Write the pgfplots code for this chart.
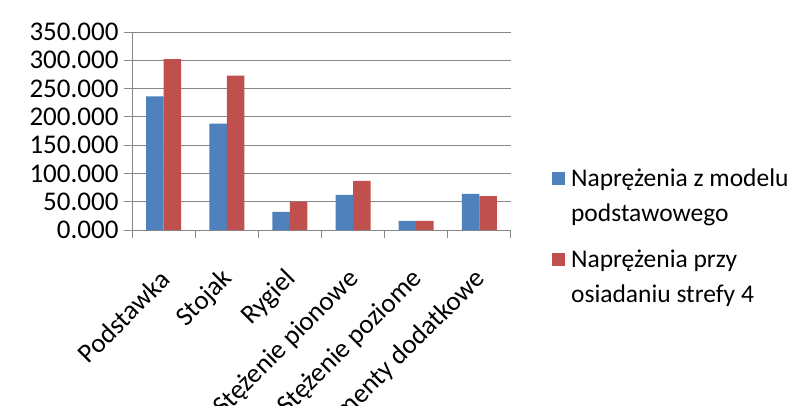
\documentclass[border=0pt]{standalone}
\usepackage{pgfplots}
\pgfplotsset{compat=1.18}
\usepackage{fontspec}
\setmainfont{Carlito}
\definecolor{xlblue}{HTML}{4F81BD}
\definecolor{xlred}{HTML}{C0504D}
\definecolor{xlgray}{HTML}{868686}
\begin{document}
\begin{tikzpicture}[x=1pt,y=1pt]
\path[use as bounding box] (0,0) rectangle (808,405);
\begin{axis}[
  at={(132pt,175pt)}, anchor=south west,
  scale only axis, width=379pt, height=198pt,
  xmin=-0.5, xmax=5.5, ymin=0, ymax=350,
  ybar=0pt, bar width=17.5pt,
  ytick={0,50,...,350},
  xtick={0,1,2,3,4,5},
  xticklabels={Podstawka,Stojak,Rygiel,Stężenie pionowe,Stężenie poziome,Elementy dodatkowe},
  minor xtick={-0.5,0.5,...,5.5},
  major x tick style={draw=none},
  tick align=outside,
  major tick length=8pt, minor tick length=8pt,
  tick style={xlgray, line width=1pt},
  axis x line*=bottom, axis y line*=left,
  axis line style={xlgray, line width=1pt},
  ymajorgrids, grid style={xlgray, line width=1pt},
  yticklabel style={font=\fontsize{27}{30}\selectfont, xshift=-2pt},
  xticklabel style={font=\fontsize{27}{30}\selectfont, xshift=2pt, yshift=-37pt, rotate=45, anchor=east, inner sep=0pt},
  /pgf/number format/.cd, fixed, fixed zerofill, precision=3, 1000 sep={}, assume math mode=true,
  /pgfplots/.cd,
  legend style={draw=none, fill=none, at={(1.10,0.33)}, anchor=north west,
    font=\fontsize{25.5}{35}\selectfont, nodes={align=left}, row sep=23pt,
    /tikz/every odd column/.append style={column sep=4pt}},
  legend cell align=left,
  legend image code/.code={\fill[#1] (0pt,11pt) rectangle (13pt,24pt);},
]
\addplot[fill=xlblue, draw=none] coordinates {(0,236) (1,188) (2,32) (3,62) (4,16) (5,64)};
\addplot[fill=xlred, draw=none] coordinates {(0,302) (1,273) (2,50) (3,87) (4,16) (5,60)};
\addlegendentry{Naprężenia z modelu\\podstawowego}
\addlegendentry{Naprężenia przy\\osiadaniu strefy 4}
\end{axis}
\end{tikzpicture}
\end{document}
